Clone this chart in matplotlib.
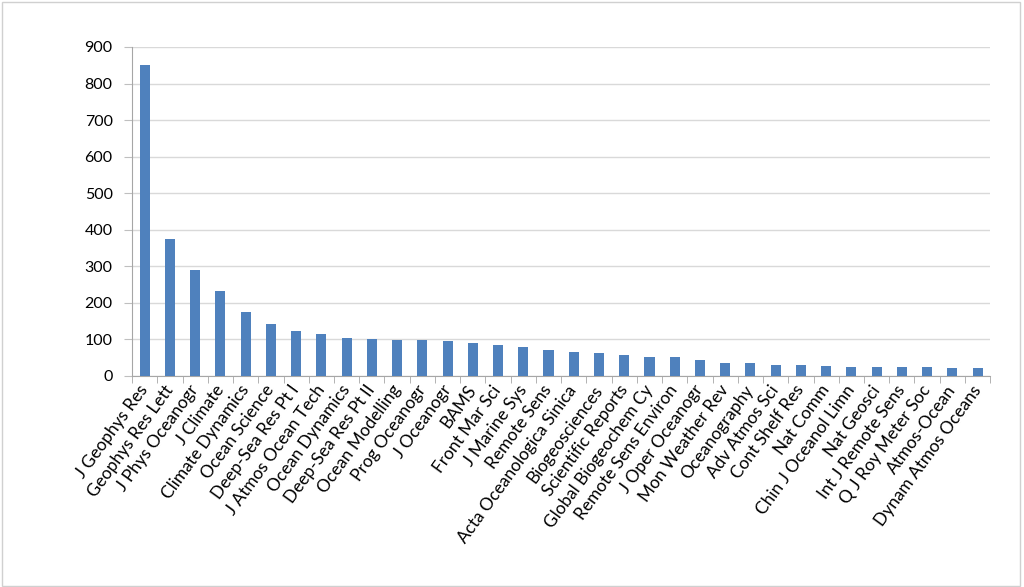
import numpy as np
import matplotlib.pyplot as plt
from matplotlib.patches import Rectangle

journals = ['J Geophys Res', 'Geophys Res Lett', 'J Phys Oceanogr', 'J Climate',
            'Climate Dynamics', 'Ocean Science', 'Deep-Sea Res Pt I', 'J Atmos Ocean Tech',
            'Ocean Dynamics', 'Deep-Sea Res Pt II', 'Ocean Modelling', 'Prog Oceanogr',
            'J Oceanogr', 'BAMS', 'Front Mar Sci', 'J Marine Sys', 'Remote Sens',
            'Acta Oceanologica Sinica', 'Biogeosciences', 'Scientific Reports',
            'Global Biogeochem Cy', 'Remote Sens Environ', 'J Oper Oceanogr',
            'Mon Weather Rev', 'Oceanography', 'Adv Atmos Sci', 'Cont Shelf Res',
            'Nat Comm', 'Chin J Oceanol Limn', 'Nat Geosci', 'Int J Remote Sens',
            'Q J Roy Meter Soc', 'Atmos-Ocean', 'Dynam Atmos Oceans']
counts = [851, 375, 289, 232, 175, 142, 123, 116, 103, 100, 98, 98,
          96, 89, 86, 78, 71, 65, 62, 57, 53, 53, 44,
          36, 36, 30, 30, 27, 25, 25, 24, 24, 22, 21]
yticks = [0, 100, 200, 300, 400, 500, 600, 700, 800, 900]

plt.rcParams['font.family'] = ['Lato', 'DejaVu Sans']

fig = plt.figure(figsize=(10.24, 5.87), dpi=100)
ax = fig.add_axes([0.129, 0.3595, 0.838, 0.5605])

x = np.arange(len(journals))
ax.bar(x, counts, width=0.4, color='#4f81bd', zorder=3)

ax.set_xlim(-0.5, len(journals) - 0.5)
ax.set_ylim(0, 900)
ax.set_yticks(yticks)
ax.set_yticklabels([str(v) for v in yticks], fontsize=11.5)
ax.yaxis.grid(True, color='#d9d9d9', linewidth=1)
ax.set_axisbelow(True)

ax.set_xticks(x)
ax.set_xticklabels(journals, rotation=54, ha='right', va='center',
                   rotation_mode='anchor', fontsize=12.4)
ax.tick_params(axis='x', length=0, pad=8)
ax.set_xticks(np.arange(-0.5, len(journals)), minor=True)
ax.tick_params(axis='x', which='minor', length=5, color='#a6a6a6')
ax.tick_params(axis='y', length=6, color='#bfbfbf', pad=8)

for s in ['top', 'right']:
    ax.spines[s].set_visible(False)
for s in ['left', 'bottom']:
    ax.spines[s].set_color('#a6a6a6')

fig.patches.append(Rectangle((0.002, 0.002), 0.994, 0.994, transform=fig.transFigure,
                             fill=False, edgecolor='#d0d0d0', linewidth=1))

fig.savefig('out.png', dpi=100)
